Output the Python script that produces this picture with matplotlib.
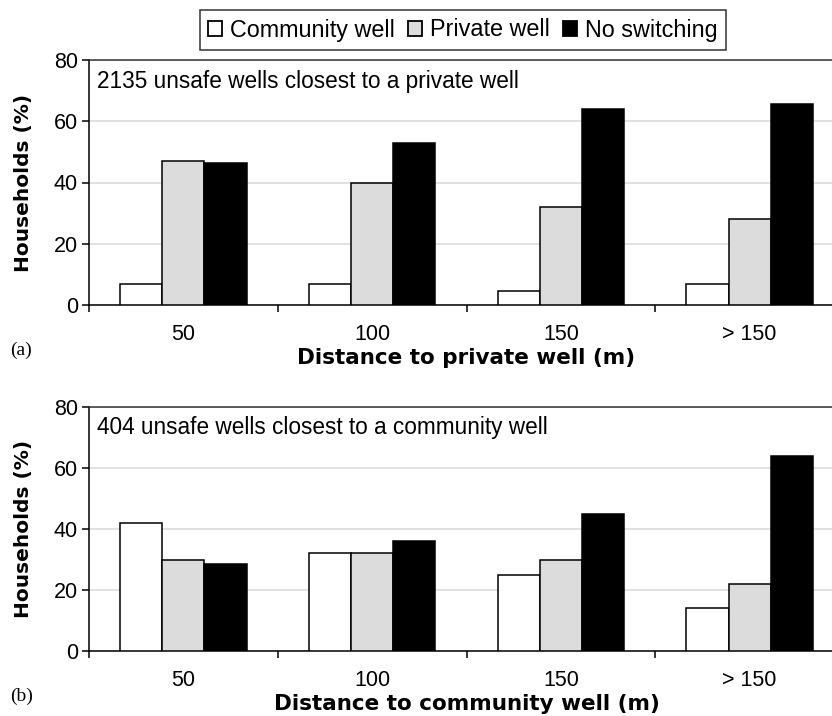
#!/usr/bin/env python3

import matplotlib
matplotlib.use("Agg")
import matplotlib.pyplot as plt
from matplotlib.patches import Patch
import numpy as np

plt.rcParams["font.family"] = ["Liberation Sans", "DejaVu Sans"]

# categories and series (% of households)
distances = ["50", "100", "150", "> 150"]
series_names = ["Community well", "Private well", "No switching"]
series_colors = ["white", "#dcdcdc", "black"]

# (a) unsafe wells closest to a private well
private_community = [7, 7, 4.5, 7]
private_private = [47, 40, 32, 28]
private_noswitch = [46.5, 53, 64, 65.5]

# (b) unsafe wells closest to a community well
community_community = [42, 32, 25, 14]
community_private = [30, 32, 30, 22]
community_noswitch = [28.5, 36, 45, 64]

panels = [
    ("(a)", "2135 unsafe wells closest to a private well", "Distance to private well (m)",
     [private_community, private_private, private_noswitch]),
    ("(b)", "404 unsafe wells closest to a community well", "Distance to community well (m)",
     [community_community, community_private, community_noswitch]),
]

W, H = 832, 716
fig = plt.figure(figsize=(W / 100, H / 100), dpi=100)

# axes boxes in pixels: left, top, right, bottom (right runs off the page like the scan)
boxes = [(89, 60, 844, 305), (89, 407, 844, 651)]

bar_w = 0.223
x = np.arange(len(distances))
bold = dict(family="DejaVu Sans", fontweight="bold")

for (tag, note, xlabel, values), (l, t, r, b) in zip(panels, boxes):
    ax = fig.add_axes([l / W, (H - b) / H, (r - l) / W, (b - t) / H])
    for k, (vals, col) in enumerate(zip(values, series_colors)):
        ax.bar(x + (k - 1) * bar_w, vals, width=bar_w, color=col,
               edgecolor="black", linewidth=1.1, zorder=3)
    ax.set_xlim(-0.5, len(distances) - 0.5)
    ax.set_ylim(0, 80)
    ax.set_yticks([0, 20, 40, 60, 80])
    ax.yaxis.grid(True, color="#d9d9d9", linewidth=1.1, zorder=0)
    ax.set_axisbelow(True)

    # boundary ticks without labels, category labels on minor ticks
    ax.set_xticks(np.arange(-0.5, len(distances), 1.0))
    ax.set_xticklabels([])
    ax.set_xticks(x, minor=True)
    ax.set_xticklabels(distances, minor=True)
    ax.tick_params(axis="x", which="major", length=5, width=1.1, direction="out")
    ax.tick_params(axis="x", which="minor", length=0, pad=14, labelsize=15.5)
    ax.tick_params(axis="y", length=5, width=1.1, direction="out", labelsize=15.5, pad=3)

    for s in ["left", "bottom"]:
        ax.spines[s].set_linewidth(1.1)
    ax.spines["top"].set_color("#333333")
    ax.spines["top"].set_linewidth(1.1)
    ax.spines["right"].set_visible(False)

    ax.set_ylabel("Households (%)", fontsize=14.5, labelpad=15, **bold)
    ax.set_xlabel(xlabel, fontsize=15.5, labelpad=2, **bold)
    ax.text(0.011, 0.914, note, transform=ax.transAxes, fontsize=16.3, va="center", ha="left")
    fig.text(10 / W, 1 - (b + 45) / H, tag, fontsize=14, family="Liberation Serif", va="center")

handles = [Patch(facecolor=c, edgecolor="black", linewidth=1.3) for c in series_colors]
leg = fig.legend(handles, series_names, loc="center", bbox_to_anchor=(463 / W, 1 - 30 / H),
                 ncol=3, fontsize=16.8, frameon=True, fancybox=False, edgecolor="black",
                 handlelength=0.6, handleheight=0.6, handletextpad=0.35, columnspacing=0.55,
                 borderpad=0.35, borderaxespad=0)
leg.get_frame().set_linewidth(1.1)

fig.savefig("out.png", dpi=100)
